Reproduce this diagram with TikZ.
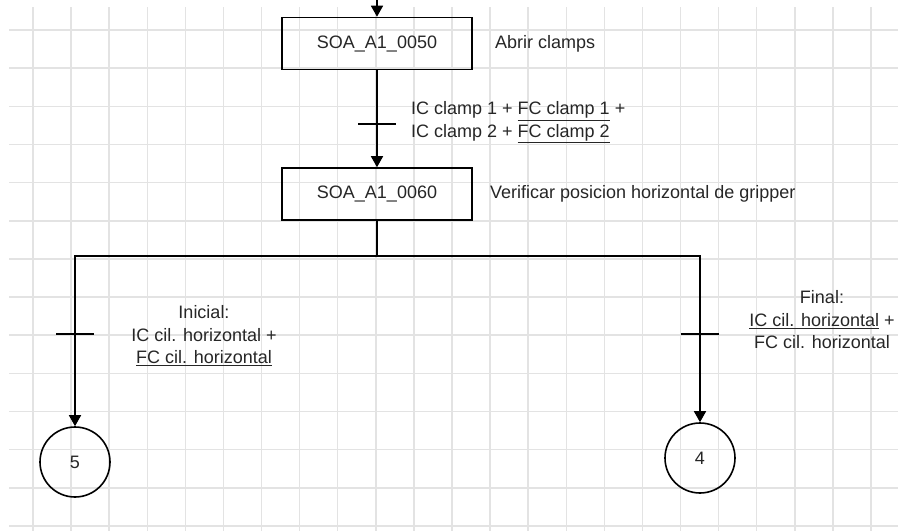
\documentclass[tikz,border=0pt]{standalone}
\usepackage{fontspec}
\setmainfont{Liberation Sans}
\usepackage{tikz}
\usetikzlibrary{positioning, arrows.meta, calc}

\begin{document}
\begin{tikzpicture}[x=1pt, y=-1pt, baseline=(current bounding box.center)]
	\tikzset{
		gridline/.style={draw=black!11, line width=1.5pt},
		etapa/.style={draw, line width=1.6pt, minimum width=190pt, minimum height=52pt, inner sep=0pt, text=black!85},
		conector/.style={circle, draw, line width=1.6pt, minimum size=70pt, inner sep=0pt, text=black!85},
		flujo/.style={line width=1.6pt},
		with arrow/.style={flujo, -{Triangle[length=11pt, width=12pt]}},
		tickmark/.style={line width=1.4pt},
		rotulo/.style={inner sep=0pt, text=black!85}
	}
	\useasboundingbox (0,0) rectangle (898,531);
	\fontsize{18}{22.5}\selectfont
	
	% cuadricula
	\foreach \i in {0,...,22} {
		\draw[gridline] ({33+38.09*\i},7) -- ({33+38.09*\i},531);
	}
	\foreach \j in {0,...,13} {
		\draw[gridline] (9,{30+38.15*\j}) -- (898,{30+38.15*\j});
	}
	
	% etapas
	\node[etapa] (e50) at (377,43.5) {SOA\_A1\_0050};
	\node[etapa] (e60) at (377,194) {SOA\_A1\_0060};
	\node[rotulo, anchor=west] (a50) at (495,43.5) {Abrir clamps};
	\node[rotulo, anchor=west] (a60) at (490,194) {Verificar posicion horizontal de gripper};
	
	\node[conector] (c5) at (75,462) {5};
	\node[conector] (c4) at (700,458) {4};
	
	% enlaces
	\coordinate (entrada) at (377,0);
	\coordinate (fork) at (377,256);
	\draw[with arrow] (entrada) -- (e50);
	\draw[with arrow] (e50) -- (e60);
	\draw[flujo] (e60) -- (fork);
	\draw[with arrow] (fork) -| (c5);
	\draw[with arrow] (fork) -| (c4);
	
	% transiciones
	\coordinate (t1) at (377,124);
	\coordinate (t2) at (75,334);
	\coordinate (t3) at (700,334);
	\foreach \t in {t1,t2,t3} {
		\draw[tickmark] ($(\t)+(-19,0)$) -- ($(\t)+(19,0)$);
	}
	
	\node[rotulo, anchor=west, align=left] (r1) at (411,122.5)
		{IC clamp 1 + \underline{FC clamp 1} +\\IC clamp 2 + \underline{FC clamp 2}};
	\node[rotulo, align=center] (r2) at (204,336)
		{Inicial:\\IC cil. horizontal +\\\underline{FC cil. horizontal}};
	\node[rotulo, align=center] (r3) at (822,320)
		{Final:\\\underline{IC cil. horizontal} +\\FC cil. horizontal};
\end{tikzpicture}
\end{document}
